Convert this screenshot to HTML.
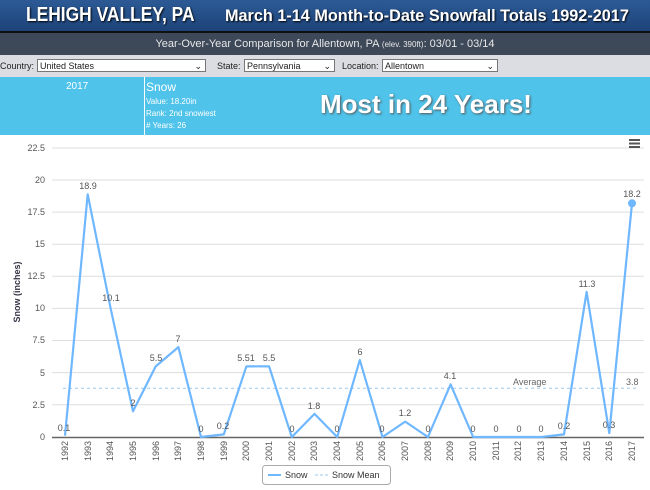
<!DOCTYPE html>
<html><head><meta charset="utf-8"><style>
body{margin:0;width:650px;height:490px;overflow:hidden;background:#fff;font-family:"Liberation Sans",sans-serif;position:relative}
.h{position:absolute;left:0;top:0;width:650px;height:31px;background:linear-gradient(#2d5a95,#1d4379);border-bottom:2px solid #111;color:#fff;font-weight:bold;text-shadow:1px 1px 2px #000}
.h span{transform-origin:0 50%;white-space:nowrap}
.sub{position:absolute;left:0;top:33px;width:650px;height:22px;background:#3d4858;color:#e8e8e8;font-size:11px;text-align:center;line-height:22px}
.ctl{position:absolute;left:0;top:55px;width:650px;height:22px;background:#dcdde2;font-size:9px;color:#222}
.sel{position:absolute;top:4px;height:13px;background:#fff;border:1px solid #777;font-size:9px;line-height:12px;padding-left:2px;box-sizing:border-box}
.cy{position:absolute;left:0;top:77px;width:650px;height:58px;background:#4fc3ea;color:#fff}
</style></head><body>
<div class="h"><span style="position:absolute;left:26px;top:4px;font-size:20px;transform:scaleX(0.87)">LEHIGH VALLEY, PA</span><span style="position:absolute;left:225px;top:6px;font-size:17px;transform:scaleX(0.955)">March 1-14 Month-to-Date Snowfall Totals 1992-2017</span></div>
<div class="sub">Year-Over-Year Comparison for Allentown, PA <span style="font-size:8px">(elev. 390ft)</span>: 03/01 - 03/14</div>
<div class="ctl">
<span style="position:absolute;left:0;top:6px">Country:</span><div class="sel" style="left:37px;width:169px">United States<span style="position:absolute;right:3px">&#8964;</span></div>
<span style="position:absolute;left:217px;top:6px">State:</span><div class="sel" style="left:244px;width:91px">Pennsylvania<span style="position:absolute;right:3px">&#8964;</span></div>
<span style="position:absolute;left:342px;top:6px">Location:</span><div class="sel" style="left:382px;width:116px">Allentown<span style="position:absolute;right:3px">&#8964;</span></div>
</div>
<div class="cy">
<span style="position:absolute;left:66px;top:4px;font-size:10px">2017</span>
<div style="position:absolute;left:144px;top:0;width:1px;height:58px;background:#fff"></div>
<span style="position:absolute;left:146px;top:3px;font-size:12px">Snow</span>
<span style="position:absolute;left:146px;top:20px;font-size:8px">Value: 18.20in</span>
<span style="position:absolute;left:146px;top:32px;font-size:8px">Rank: 2nd snowiest</span>
<span style="position:absolute;left:146px;top:44px;font-size:8px"># Years: 26</span>
<span style="position:absolute;left:320px;top:12px;font-size:26px;font-weight:bold;text-shadow:1px 1px 2px #555">Most in 24 Years!</span>
</div>
<svg style="position:absolute;left:0;top:0" width="650" height="490" font-family="Liberation Sans,sans-serif">
<g stroke="#ddd" stroke-width="1">
<line x1="52" x2="644" y1="148" y2="148"/><line x1="52" x2="644" y1="180" y2="180"/><line x1="52" x2="644" y1="212.1" y2="212.1"/><line x1="52" x2="644" y1="244.2" y2="244.2"/><line x1="52" x2="644" y1="276.3" y2="276.3"/><line x1="52" x2="644" y1="308.4" y2="308.4"/><line x1="52" x2="644" y1="340.5" y2="340.5"/><line x1="52" x2="644" y1="372.6" y2="372.6"/><line x1="52" x2="644" y1="404.7" y2="404.7"/>
</g>
<line x1="52" x2="644" y1="437.5" y2="437.5" stroke="#666" stroke-width="1.5"/>
<g fill="#555" font-size="9" text-anchor="end">
<text x="45" y="151">22.5</text><text x="45" y="183">20</text><text x="45" y="215">17.5</text><text x="45" y="247">15</text><text x="45" y="279">12.5</text><text x="45" y="311">10</text><text x="45" y="343">7.5</text><text x="45" y="376">5</text><text x="45" y="408">2.5</text><text x="45" y="440">0</text>
</g>
<text transform="translate(20,292) rotate(-90)" font-size="9" fill="#334" font-weight="bold" text-anchor="middle">Snow (inches)</text>
<g fill="#555" font-size="9" text-anchor="end">
<text transform="translate(68,441) rotate(-90)">1992</text><text transform="translate(91,441) rotate(-90)">1993</text><text transform="translate(113,441) rotate(-90)">1994</text><text transform="translate(136,441) rotate(-90)">1995</text><text transform="translate(159,441) rotate(-90)">1996</text><text transform="translate(181,441) rotate(-90)">1997</text><text transform="translate(204,441) rotate(-90)">1998</text><text transform="translate(227,441) rotate(-90)">1999</text><text transform="translate(249,441) rotate(-90)">2000</text><text transform="translate(272,441) rotate(-90)">2001</text><text transform="translate(295,441) rotate(-90)">2002</text><text transform="translate(317,441) rotate(-90)">2003</text><text transform="translate(340,441) rotate(-90)">2004</text><text transform="translate(363,441) rotate(-90)">2005</text><text transform="translate(385,441) rotate(-90)">2006</text><text transform="translate(408,441) rotate(-90)">2007</text><text transform="translate(431,441) rotate(-90)">2008</text><text transform="translate(453,441) rotate(-90)">2009</text><text transform="translate(476,441) rotate(-90)">2010</text><text transform="translate(499,441) rotate(-90)">2011</text><text transform="translate(521,441) rotate(-90)">2012</text><text transform="translate(544,441) rotate(-90)">2013</text><text transform="translate(567,441) rotate(-90)">2014</text><text transform="translate(590,441) rotate(-90)">2015</text><text transform="translate(612,441) rotate(-90)">2016</text><text transform="translate(635,441) rotate(-90)">2017</text>
</g>
<line x1="63" x2="636" y1="388.2" y2="388.2" stroke="#9cc8ee" stroke-dasharray="3,3"/>
<text x="513" y="385" font-size="9" fill="#666">Average</text>
<text x="626" y="385" font-size="9" fill="#666">3.8</text>
<polyline fill="none" stroke="#6fb7ff" stroke-width="2.2" stroke-linejoin="round" points="65,435.7 87.7,194.3 110.4,307.3 133,411.3 155.7,366.4 178.4,347.1 201,437 223.8,434.4 246.4,366.3 269.1,366.4 291.8,437 314.5,413.9 337.2,437 359.8,360 382.5,437 405.2,421.6 427.9,437 450.6,384.4 473.2,437 495.9,437 518.6,437 541.3,437 564,434.4 586.6,291.9 609.3,433.1 632,203.3"/>
<circle cx="632" cy="203.3" r="4" fill="#6fb7ff"/>
<g fill="#555" font-size="9" text-anchor="middle">
<text x="64" y="431">0.1</text><text x="88" y="189">18.9</text><text x="111" y="301">10.1</text><text x="133" y="406">2</text><text x="156" y="361">5.5</text><text x="178" y="342">7</text><text x="201" y="432">0</text><text x="223" y="429">0.2</text><text x="246" y="361">5.51</text><text x="269" y="361">5.5</text><text x="292" y="432">0</text><text x="314" y="409">1.8</text><text x="337" y="432">0</text><text x="360" y="355">6</text><text x="382" y="432">0</text><text x="405" y="416">1.2</text><text x="428" y="432">0</text><text x="450" y="379">4.1</text><text x="473" y="432">0</text><text x="496" y="432">0</text><text x="519" y="432">0</text><text x="541" y="432">0</text><text x="564" y="429">0.2</text><text x="587" y="287">11.3</text><text x="609" y="428">0.3</text><text x="632" y="197">18.2</text>
</g>
<g fill="#555"><rect x="629" y="139" width="11" height="2"/><rect x="629" y="142.5" width="11" height="2"/><rect x="629" y="146" width="11" height="2"/></g>
<rect x="262.5" y="465.5" width="128" height="19" rx="3" fill="#fff" stroke="#aaa"/>
<line x1="268" x2="281" y1="475" y2="475" stroke="#6fb7ff" stroke-width="2"/>
<text x="285" y="478" font-size="9" fill="#333">Snow</text>
<line x1="315" x2="328" y1="475" y2="475" stroke="#9cc8ee" stroke-dasharray="3,2"/>
<text x="332" y="478" font-size="9" fill="#333">Snow Mean</text>
</svg>
</body></html>
